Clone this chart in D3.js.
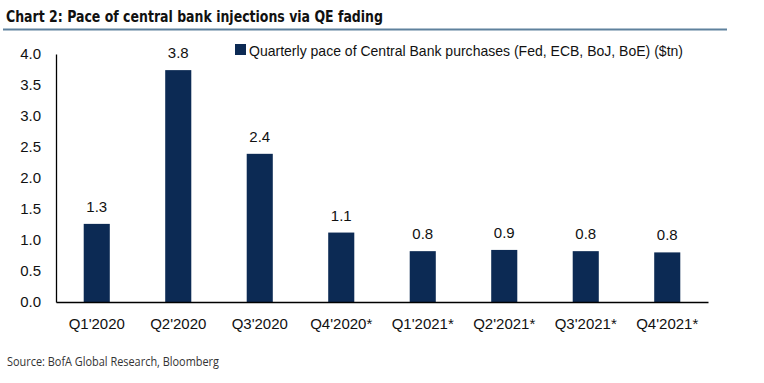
<!DOCTYPE html>
<html><head><meta charset="utf-8">
<script src="https://cdn.jsdelivr.net/npm/d3@7"></script>
<style>body{margin:0;background:#fff}svg{display:block}</style>
</head><body>
<script>
const categories = ["Q1'2020","Q2'2020","Q3'2020","Q4'2020*","Q1'2021*","Q2'2021*","Q3'2021*","Q4'2021*"];
const values = [1.26, 3.74, 2.39, 1.12, 0.82, 0.84, 0.82, 0.80];
const valueLabels = ["1.3","3.8","2.4","1.1","0.8","0.9","0.8","0.8"];
const yTicks = [0,0.5,1,1.5,2,2.5,3,3.5,4];
const seriesName = "Quarterly pace of Central Bank purchases (Fed, ECB, BoJ, BoE) ($tn)";
const title = "Chart 2: Pace of central bank injections via QE fading";
const source = "Source: BofA Global Research, Bloomberg";

const W = 764, H = 383;
const svg = d3.select("body").append("svg").attr("width", W).attr("height", H);
const mLeft = 56, mRight = 708, mTop = 54, mBottom = 302;
const font = "'Liberation Sans', Arial, sans-serif";
const barColor = "#0c2a54";

// title
svg.append("text").attr("x", 6).attr("y", 22)
  .attr("font-family", "'Liberation Sans Narrow','DejaVu Sans Condensed','Liberation Sans',sans-serif")
  .attr("font-weight", "bold").attr("font-size", 16).attr("fill", "#111")
  .attr("textLength", 377).attr("lengthAdjust", "spacingAndGlyphs")
  .text(title);
svg.append("line").attr("x1", 3).attr("x2", 727).attr("y1", 29.5).attr("y2", 29.5)
  .attr("stroke", "#5f819d").attr("stroke-width", 2);

const x = d3.scaleBand().domain(categories).range([mLeft, mRight]).paddingInner(0.68).paddingOuter(0.34);
const y = d3.scaleLinear().domain([0, 4]).range([mBottom, mTop]);

// bars
svg.append("g").selectAll("rect").data(values).join("rect")
  .attr("x", (d, i) => x(categories[i])).attr("width", x.bandwidth())
  .attr("y", d => y(d)).attr("height", d => y(0) - y(d))
  .attr("fill", barColor);

// value labels
svg.append("g").selectAll("text").data(values).join("text")
  .attr("x", (d, i) => x(categories[i]) + x.bandwidth() / 2)
  .attr("y", d => y(d) - 12)
  .attr("text-anchor", "middle").attr("font-family", font).attr("font-size", 15).attr("fill", "#111")
  .text((d, i) => valueLabels[i]);

// y axis
const yAxis = d3.axisLeft(y).tickValues(yTicks).tickFormat(d3.format(".1f")).tickSize(0).tickPadding(15);
const gy = svg.append("g").attr("transform", `translate(${mLeft},0)`).call(yAxis);
gy.select(".domain").attr("stroke", "#000").attr("stroke-width", 1.3);
gy.selectAll("text").attr("font-family", font).attr("font-size", 15).attr("fill", "#111");

// x axis
const xAxis = d3.axisBottom(x).tickSize(0).tickPadding(16);
const gx = svg.append("g").attr("transform", `translate(0,${mBottom})`).call(xAxis);
gx.select(".domain").attr("stroke", "#000").attr("stroke-width", 1.3);
gx.selectAll("text").attr("font-family", font).attr("font-size", 15).attr("fill", "#111");

// legend
svg.append("rect").attr("x", 235).attr("y", 44).attr("width", 11).attr("height", 11).attr("fill", barColor);
svg.append("text").attr("x", 249).attr("y", 55.5)
  .attr("font-family", font).attr("font-size", 15).attr("fill", "#111")
  .attr("textLength", 434).attr("lengthAdjust", "spacingAndGlyphs")
  .text(seriesName);

// source
svg.append("text").attr("x", 7).attr("y", 366)
  .attr("font-family", "'Open Sans','Liberation Sans',sans-serif").attr("font-size", 12).attr("fill", "#333")
  .attr("textLength", 212).attr("lengthAdjust", "spacingAndGlyphs")
  .text(source);
</script>
</body></html>
